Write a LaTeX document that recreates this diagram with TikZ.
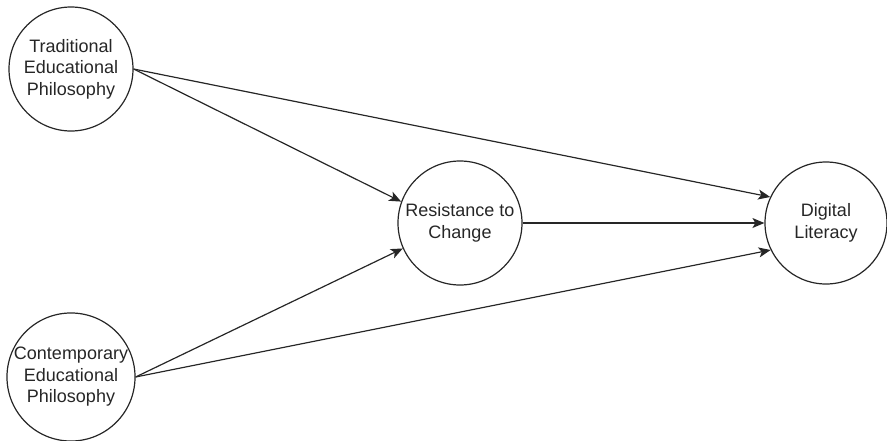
\documentclass[tikz,border=0pt]{standalone}
\usepackage{fontspec}
\setmainfont{Liberation Sans}
\usetikzlibrary{arrows.meta}
\begin{document}
\begin{tikzpicture}[x=1pt,y=-1pt,
  var/.style={circle,draw=black!85,line width=1.2pt,minimum size=124pt,inner sep=0pt,align=center,
    font=\fontsize{18}{21.5}\selectfont,text=black!85},
  conn/.style={draw=black!85,line width=1.2pt,-{Stealth[length=12pt,width=10pt,inset=3pt]}}]
\useasboundingbox (0,0) rectangle (887,440);
\node[var] (trad) at (71,69) {Traditional\\Educational\\Philosophy};
\node[var] (cont) at (71,377) {Contemporary\\Educational\\Philosophy};
\node[var] (res) at (460,223) {Resistance to\\Change};
\node[var,minimum size=122pt] (dig) at (826,223) {Digital\\Literacy};
\draw[conn] (trad.east) -- (res.160);
\draw[conn] (trad.east) -- (dig.155);
\draw[conn] (cont.east) -- (res.204);
\draw[conn] (cont.east) -- (dig.206);
\draw[conn] (res.east) -- (dig.west);
\end{tikzpicture}
\end{document}
